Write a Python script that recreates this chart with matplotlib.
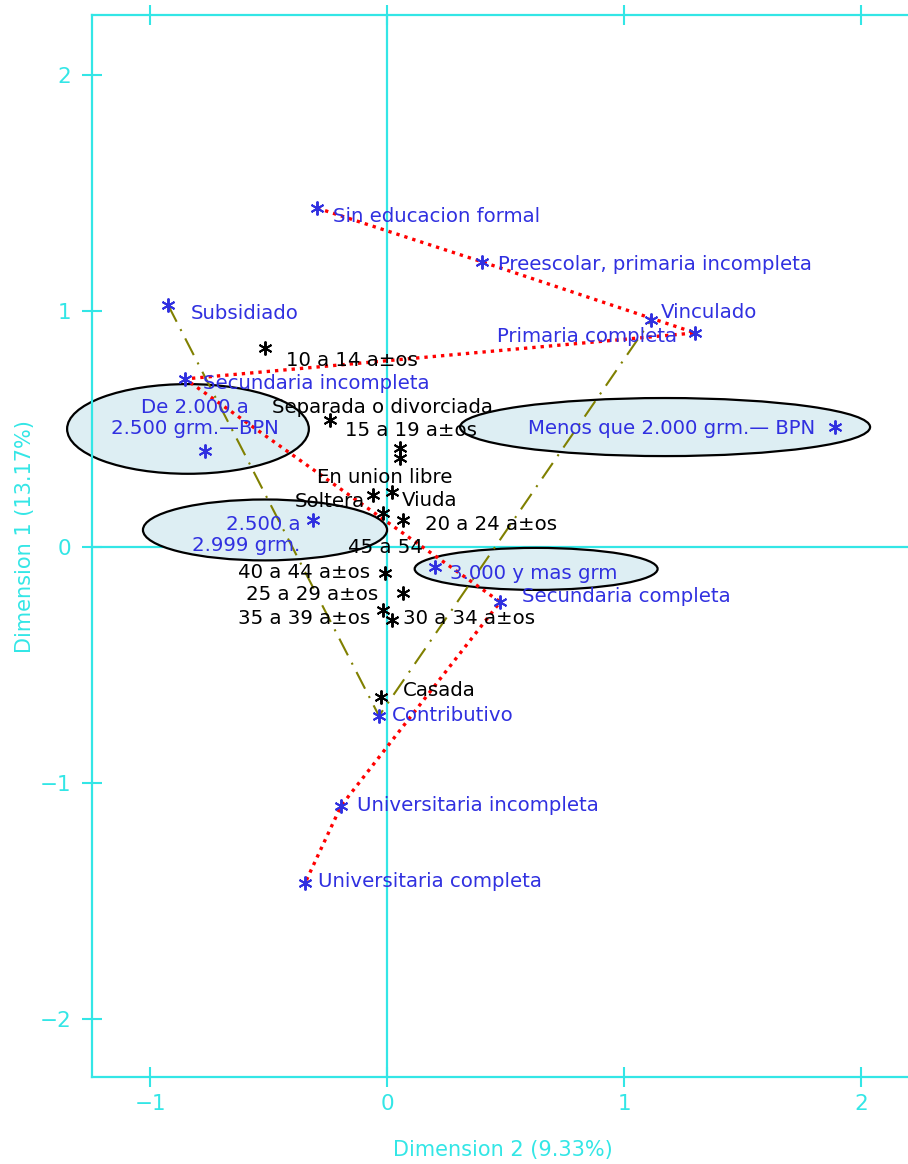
import numpy as np
import matplotlib
matplotlib.use('Agg')
import matplotlib.pyplot as plt
from matplotlib.patches import Ellipse

# education categories (red dotted path, in this order)
edu_names = ['Sin educacion formal', 'Preescolar, primaria incompleta',
             'Primaria completa', 'Secundaria incompleta',
             'Secundaria completa', 'Universitaria incompleta',
             'Universitaria completa']
edu_x = [-0.295, 0.401, 1.300, -0.852, 0.477, -0.194, -0.346]
edu_y = [1.436, 1.208, 0.907, 0.712, -0.233, -1.097, -1.424]

# health regime (olive dash-dot path)
reg_names = ['Subsidiado', 'Contributivo', 'Vinculado']
reg_x = [-0.924, -0.034, 1.114]
reg_y = [1.025, -0.716, 0.962]

# birth weight
bw_names = ['Menos que 2.000 grm.\u2014 BPN', 'De 2.000 a\n2.500 grm.\u2014BPN',
            '2.500 a\n2.999 grm.', '3.000 y mas grm']
bw_x = [1.890, -0.768, -0.312, 0.203]
bw_y = [0.508, 0.407, 0.114, -0.085]

# mother age and marital status (black)
blk_names = ['10 a 14 a\u00b1os', '15 a 19 a\u00b1os', 'Separada o divorciada',
             'En union libre', 'Soltera', 'Viuda', '45 a 54',
             '20 a 24 a\u00b1os', '40 a 44 a\u00b1os', '25 a 29 a\u00b1os',
             '35 a 39 a\u00b1os', '30 a 34 a\u00b1os', 'Casada']
blk_x = [-0.515, -0.241, 0.055, 0.055, -0.059, 0.021, -0.017,
         0.068, -0.008, 0.068, -0.017, 0.021, -0.025]
blk_y = [0.843, 0.538, 0.419, 0.377, 0.220, 0.233, 0.144,
         0.114, -0.110, -0.195, -0.267, -0.309, -0.636]

# highlight ellipses around birth weight groups: (cx, cy, w, h)
ell_cx = [-0.840, 1.173, -0.515, 0.629]
ell_cy = [0.500, 0.508, 0.072, -0.093]
ell_w = [1.02, 1.73, 1.03, 1.025]
ell_h = [0.38, 0.246, 0.258, 0.178]

# label placement: offset in pixels and horizontal alignment
lab_pos = {
    'Sin educacion formal': (16, -8, 'left'),
    'Preescolar, primaria incompleta': (16, -3, 'left'),
    'Primaria completa': (-18, -4, 'right'),
    'Secundaria incompleta': (18, -5, 'left'),
    'Secundaria completa': (22, 5, 'left'),
    'Universitaria incompleta': (16, 0, 'left'),
    'Universitaria completa': (13, 2, 'left'),
    'Subsidiado': (23, -8, 'left'),
    'Contributivo': (13, 0, 'left'),
    'Vinculado': (10, 7, 'left'),
    'Menos que 2.000 grm.\u2014 BPN': (-20, -1, 'right'),
    'De 2.000 a\n2.500 grm.\u2014BPN': (-10, 33, 'center'),
    '2.500 a\n2.999 grm.': (-13, -15, 'right'),
    '3.000 y mas grm': (15, -6, 'left'),
    '10 a 14 a\u00b1os': (21, -13, 'left'),
    '15 a 19 a\u00b1os': (15, -11, 'left'),
    'Separada o divorciada': (-18, 41, 'center'),
    'En union libre': (-15, -20, 'center'),
    'Soltera': (-8, -6, 'right'),
    'Viuda': (10, -9, 'left'),
    '45 a 54': (2, -35, 'center'),
    '20 a 24 a\u00b1os': (22, -4, 'left'),
    '40 a 44 a\u00b1os': (-15, 0, 'right'),
    '25 a 29 a\u00b1os': (-25, -2, 'right'),
    '35 a 39 a\u00b1os': (-13, -9, 'right'),
    '30 a 34 a\u00b1os': (11, 1, 'left'),
    'Casada': (22, 7, 'left'),
}

cyan = '#33e6e6'
blue = '#3030e0'
star = (6, 2, 0)
fs_lab = 14.2

fig = plt.figure(figsize=(9.08, 11.64), dpi=100)
ax = fig.add_axes([92 / 908, 87 / 1164, 1 - 92 / 908, 1062 / 1164])
ax.set_xlim(-1.245, 2.198)
ax.set_ylim(-2.246, 2.254)

ax.axvline(0, color=cyan, lw=1.6, zorder=1)
ax.axhline(0, color=cyan, lw=1.6, zorder=1)

for cx, cy, w, h in zip(ell_cx, ell_cy, ell_w, ell_h):
    ax.add_patch(Ellipse((cx, cy), w, h, facecolor='#ddeef3',
                         edgecolor='black', lw=1.6, zorder=2, clip_on=False))

ax.plot(edu_x, edu_y, color='red', ls=(0, (1, 1.5)), lw=2.4, zorder=3)
ax.plot(reg_x, reg_y, color='#808000', ls=(0, (9, 4, 1, 4)), lw=1.5, zorder=3)


def draw_points(xs, ys, names, col):
    ax.plot(xs, ys, ls='none', marker=star, ms=10, mew=1.4, color=col, zorder=4)
    for x, y, n in zip(xs, ys, names):
        dx, dy, ha = lab_pos[n]
        ax.annotate(n, (x, y), xytext=(dx, dy), textcoords='offset pixels',
                    ha=ha, va='center', multialignment=ha, color=col,
                    fontsize=fs_lab, linespacing=1.1, zorder=5)


draw_points(edu_x, edu_y, edu_names, blue)
draw_points(reg_x, reg_y, reg_names, blue)
draw_points(bw_x, bw_y, bw_names, blue)
draw_points(blk_x, blk_y, blk_names, 'black')

for s in ['left', 'top', 'bottom']:
    ax.spines[s].set_color(cyan)
    ax.spines[s].set_linewidth(1.6)
ax.spines['right'].set_visible(False)

ax.set_xticks([-1, 0, 1, 2])
ax.set_yticks([-2, -1, 0, 1, 2])
ax.tick_params(axis='x', direction='inout', length=14, width=1.5, color=cyan,
               labelcolor=cyan, labelsize=15.5, top=True, pad=5)
ax.tick_params(axis='y', direction='inout', length=14, width=1.5, color=cyan,
               labelcolor=cyan, labelsize=15.5, pad=8)

fig.text(503 / 908, 1 - 1150 / 1164, 'Dimension 2 (9.33%)', color=cyan,
         fontsize=15, ha='center', va='center')
fig.text(25 / 908, 1 - 537 / 1164, 'Dimension 1 (13.17%)', color=cyan,
         fontsize=15, ha='center', va='center', rotation=90)

fig.savefig('out.png', dpi=100)
